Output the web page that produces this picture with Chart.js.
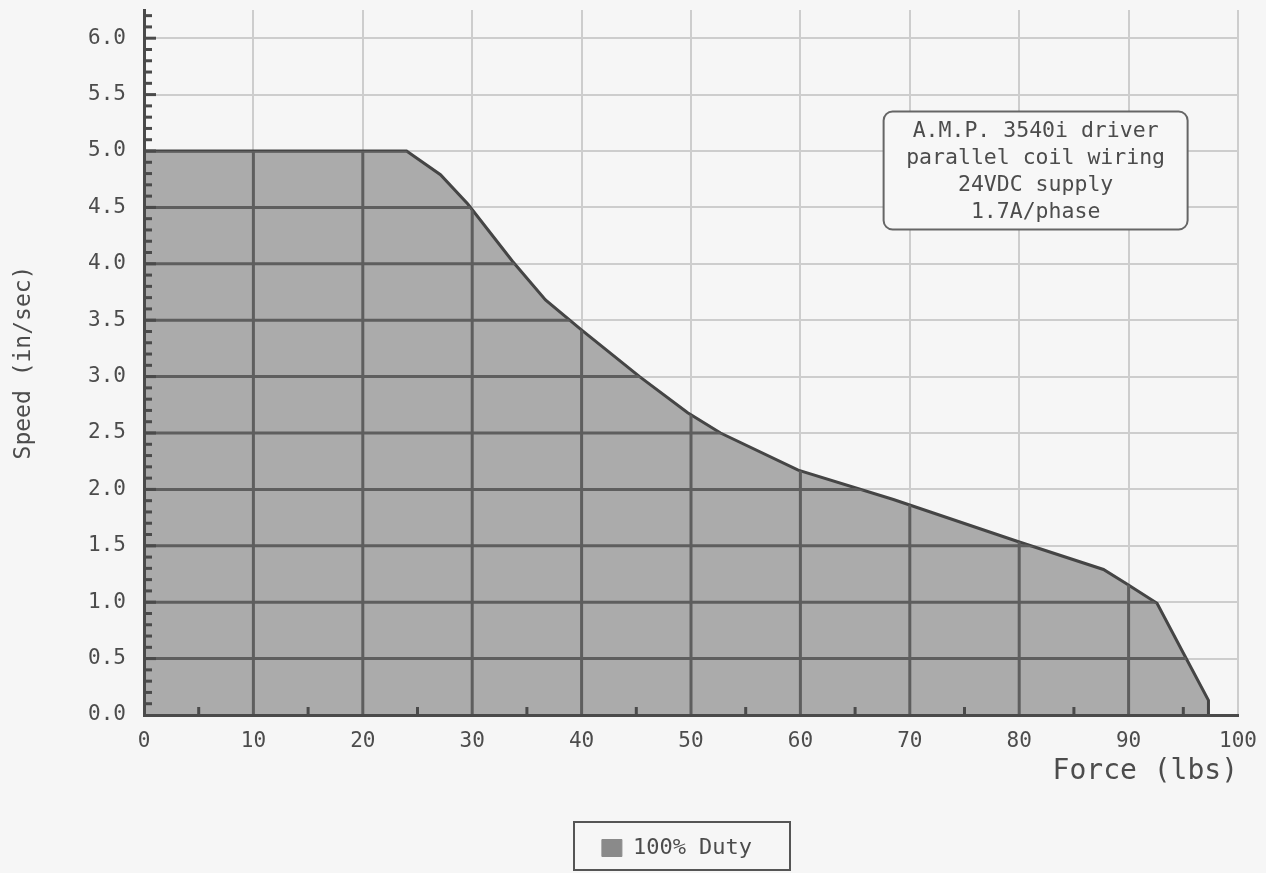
<!DOCTYPE html>
<html>
<head>
<meta charset="utf-8">
<script src="https://cdn.jsdelivr.net/npm/chart.js"></script>
<style>
  html, body { margin: 0; padding: 0; background: #f6f6f6; }
  #wrap { width: 1266px; height: 873px; }
</style>
</head>
<body>
<div id="wrap"><canvas id="speed-chart"></canvas></div>
<script>
    // 数据 (force in lbs, speed in in/sec)
    var forceLbs = [0, 24, 27.1, 29.6, 33.7, 36.7, 39.9, 45.3, 49.7, 52.7, 59.8, 68.5, 79.8, 87.7, 89.7, 92.6, 95, 97.3, 97.3];
    var speedIps = [5.0, 5.0, 4.79, 4.53, 4.02, 3.68, 3.42, 3.0, 2.68, 2.50, 2.17, 1.91, 1.54, 1.29, 1.17, 0.99, 0.55, 0.13, 0];
    var seriesName = '100% Duty';
    var noteLines = ['A.M.P. 3540i driver', 'parallel coil wiring', '24VDC supply', '1.7A/phase'];

    var FONT = '"DejaVu Sans Mono", "Liberation Mono", monospace';
    var TEXT = '#4c4c4c';
    var AXIS = '#4a4a4a';

    var points = forceLbs.map(function(f, i) { return {x: f, y: speedIps[i]}; });

    // dark grid lines where the fill is (like the scan)
    var gridUnderFill = {
        id: 'gridUnderFill',
        afterDatasetsDraw: function(chart) {
            var pts = chart.getDatasetMeta(0).data;
            var ctx = chart.ctx, x = chart.scales.x, y = chart.scales.y;
            var base = y.getPixelForValue(0);
            ctx.save();
            ctx.beginPath();
            ctx.moveTo(pts[0].x, base);
            pts.forEach(function(p) { ctx.lineTo(p.x, p.y); });
            ctx.lineTo(pts[pts.length - 1].x, base);
            ctx.closePath();
            ctx.clip();
            ctx.strokeStyle = '#5e5e5e';
            ctx.lineWidth = 3;
            x.ticks.forEach(function(t) {
                if (t.value <= 0) return;
                var px = x.getPixelForValue(t.value);
                ctx.beginPath(); ctx.moveTo(px, y.top); ctx.lineTo(px, y.bottom); ctx.stroke();
            });
            y.ticks.forEach(function(t) {
                if (t.value <= 0) return;
                var py = y.getPixelForValue(t.value);
                ctx.beginPath(); ctx.moveTo(x.left, py); ctx.lineTo(x.right, py); ctx.stroke();
            });
            ctx.restore();
        }
    };

    // minor ticks, note box, legend frame
    var extras = {
        id: 'extras',
        afterLayout: function(chart) {
            // centre the legend under the plot area instead of the canvas
            var lg = chart.legend, ca = chart.chartArea;
            var shift = (ca.left + ca.right) / 2 - 14 - (lg.left + lg.right) / 2;
            lg.left += shift; lg.right += shift;
        },
        afterDraw: function(chart) {
            var ctx = chart.ctx, x = chart.scales.x, y = chart.scales.y;
            ctx.save();
            ctx.strokeStyle = AXIS;
            ctx.lineWidth = 3;
            var i, p;
            for (i = 1; i <= 62; i++) {
                p = y.getPixelForValue(i / 10);
                var len = (i % 5 === 0) ? 12 : 8;
                ctx.beginPath(); ctx.moveTo(x.left, p); ctx.lineTo(x.left + len, p); ctx.stroke();
            }
            for (i = 5; i < 100; i += 10) {
                p = x.getPixelForValue(i);
                ctx.beginPath(); ctx.moveTo(p, y.bottom); ctx.lineTo(p, y.bottom - 8); ctx.stroke();
            }

            // note box
            var cx = x.getPixelForValue(81.5);
            var top = y.getPixelForValue(5.35);
            var w = 304, h = 118, r = 9;
            ctx.beginPath();
            ctx.roundRect(cx - w / 2, top, w, h, r);
            ctx.fillStyle = '#f7f7f7';
            ctx.fill();
            ctx.lineWidth = 2;
            ctx.strokeStyle = '#666666';
            ctx.stroke();
            ctx.fillStyle = TEXT;
            ctx.font = '21.5px ' + FONT;
            ctx.textAlign = 'center';
            ctx.textBaseline = 'middle';
            noteLines.forEach(function(t, k) {
                ctx.fillText(t, cx, top + 20 + k * 27);
            });

            // legend frame
            var lg = chart.legend;
            var lc = (lg.left + lg.right) / 2 + 5;
            ctx.lineWidth = 2;
            ctx.strokeStyle = '#555555';
            ctx.strokeRect(lc - 108, lg.top - 5, 216, 48);
            ctx.restore();
        }
    };

    var ctx = document.getElementById('speed-chart').getContext('2d');
    var myChart = new Chart(ctx, {
        type: 'line',
        data: {
            datasets: [{
                label: seriesName,
                data: points,
                borderColor: '#454545',
                borderWidth: 3,
                backgroundColor: '#ababab',
                fill: 'origin',
                pointRadius: 0,
                tension: 0
            }]
        },
        options: {
            responsive: true,
            maintainAspectRatio: false,
            animation: false,
            layout: { padding: { top: 10, right: 28, left: 0, bottom: 4 } },
            scales: {
                x: {
                    type: 'linear',
                    min: 0,
                    max: 100,
                    ticks: {
                        stepSize: 10,
                        color: TEXT,
                        padding: 14,
                        font: { family: FONT, size: 21 }
                    },
                    grid: {
                        drawTicks: false,
                        lineWidth: 2,
                        color: function(c) { return c.tick && c.tick.value === 0 ? 'rgba(0,0,0,0)' : '#cdcdcd'; }
                    },
                    border: { display: true, color: AXIS, width: 3, z: 1 },
                    title: {
                        display: true,
                        text: 'Force (lbs)',
                        align: 'end',
                        color: TEXT,
                        font: { family: FONT, size: 28 },
                        padding: { top: 0, bottom: 38 }
                    },
                    afterFit: function(scale) {
                        scale.height = 112;
                        scale.paddingLeft = 0;
                        scale.paddingRight = 0;
                    }
                },
                y: {
                    min: 0,
                    max: 6.25,
                    ticks: {
                        stepSize: 0.5,
                        color: TEXT,
                        padding: 18,
                        font: { family: FONT, size: 21 },
                        callback: function(v) { return v.toFixed(1); }
                    },
                    afterBuildTicks: function(scale) {
                        scale.ticks = scale.ticks.filter(function(t) { return t.value <= 6.0001; });
                    },
                    grid: {
                        drawTicks: false,
                        lineWidth: 2,
                        color: function(c) { return c.tick && c.tick.value === 0 ? 'rgba(0,0,0,0)' : '#cdcdcd'; }
                    },
                    border: { display: true, color: AXIS, width: 3, z: 1 },
                    title: {
                        display: true,
                        text: 'Speed (in/sec)',
                        color: TEXT,
                        font: { family: FONT, size: 23 },
                        padding: { top: 10, bottom: 0 }
                    },
                    afterFit: function(scale) {
                        scale.width = 144;
                        scale.paddingTop = 0;
                        scale.paddingBottom = 0;
                    }
                }
            },
            plugins: {
                legend: {
                    position: 'bottom',
                    labels: {
                        color: TEXT,
                        boxWidth: 20,
                        boxHeight: 17,
                        padding: 10,
                        font: { family: FONT, size: 22 },
                        generateLabels: function(chart) {
                            var items = Chart.defaults.plugins.legend.labels.generateLabels(chart);
                            items.forEach(function(it) {
                                it.fillStyle = '#8a8a8a';
                                it.strokeStyle = '#8a8a8a';
                                it.lineWidth = 1;
                            });
                            return items;
                        }
                    }
                },
                tooltip: { enabled: false }
            }
        },
        plugins: [gridUnderFill, extras]
    });
</script>
</body>
</html>
